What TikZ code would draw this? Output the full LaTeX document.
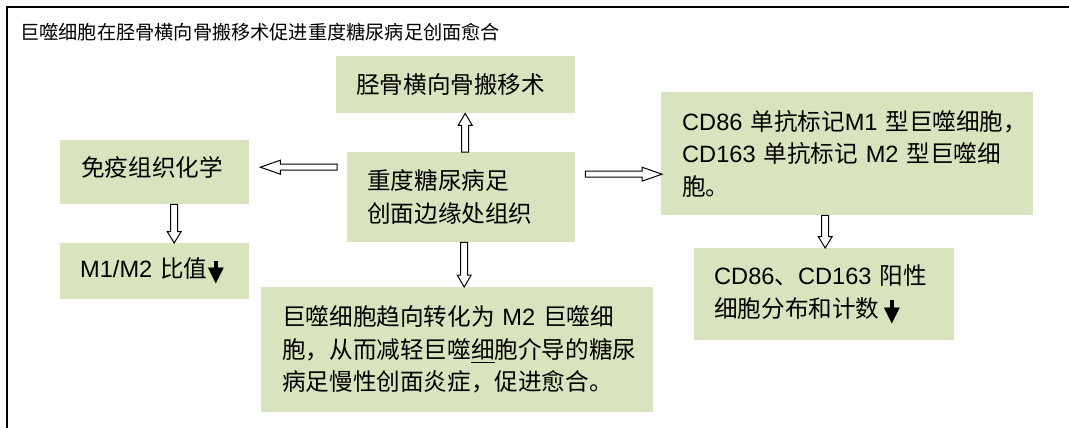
\documentclass[tikz,border=0pt]{standalone}
\usepackage{fontspec}
\setmainfont{Noto Sans CJK SC}
\newfontfamily\lat{Liberation Sans}
\newfontfamily\dv{DejaVu Sans}
\usetikzlibrary{calc}
\definecolor{boxgreen}{HTML}{D7E4BD}
% solid black down arrow: thick stem plus filled triangle head
\newcommand\darr{\makebox[17pt]{%
  \makebox[0pt]{\raisebox{6pt}{\rule{4pt}{11pt}}}%
  \makebox[0pt]{\raisebox{-4pt}{\fontsize{21}{21}\dv ▼}}}}
% underlined character
\newcommand\ulchar[1]{\makebox[0pt][l]{\rule[-4.6pt]{1em}{1.2pt}}#1}
% #1 head length, #2 shaft half width, #3 head half width, #4 from, #5 to
\newcommand\blockarrow[5]{%
 \draw[harrow] let \p1=(#4), \p2=(#5), \n2={veclen(\x2-\x1,\y2-\y1)},
   \n3={(\x2-\x1)/\n2}, \n4={(\y2-\y1)/\n2}, \n5={\n2-#1} in
 ({\x1+#2*(\n4)*1pt},{\y1-#2*(\n3)*1pt}) --
 ({\x1+\n5*(\n3)*1pt+#2*(\n4)*1pt},{\y1+\n5*(\n4)*1pt-#2*(\n3)*1pt}) --
 ({\x1+\n5*(\n3)*1pt+#3*(\n4)*1pt},{\y1+\n5*(\n4)*1pt-#3*(\n3)*1pt}) --
 (\p2) --
 ({\x1+\n5*(\n3)*1pt-#3*(\n4)*1pt},{\y1+\n5*(\n4)*1pt+#3*(\n3)*1pt}) --
 ({\x1+\n5*(\n3)*1pt-#2*(\n4)*1pt},{\y1+\n5*(\n4)*1pt+#2*(\n3)*1pt}) --
 ({\x1-#2*(\n4)*1pt},{\y1+#2*(\n3)*1pt}) -- cycle;}
\tikzset{
  box/.style={fill=boxgreen, draw=none, anchor=north west, inner ysep=0pt,
    align=left, font=\fontsize{23.6}{32.5}\selectfont},
  harrow/.style={draw=black, fill=white, line width=1pt, line join=miter},
}
\begin{document}
\begin{tikzpicture}[x=1pt, y=-1pt]
\useasboundingbox (0,0) rectangle (1069,428);
\draw[line width=1.3pt] (7,428) -- (7,7) -- (1069,7);
\node[anchor=west, inner sep=0pt, font=\fontsize{19.2}{22}\selectfont] (title) at (20,32)
  {巨噬细胞在胫骨横向骨搬移术促进重度糖尿病足创面愈合};

\node[box, minimum width=239pt, minimum height=57pt, inner xsep=20pt, text width=199pt] (top) at (336,56)
  {胫骨横向骨搬移术};
\node[box, minimum width=228pt, minimum height=90pt, inner xsep=20pt, text width=188pt] (ctr) at (347,152)
  {重度糖尿病足\\创面边缘处组织};
\node[box, minimum width=189pt, minimum height=64pt, inner xsep=21pt, text width=147pt] (imm) at (60,140)
  {免疫组织化学\rule[-12pt]{0pt}{12pt}};
\node[box, minimum width=189pt, minimum height=56pt, inner xsep=20pt, text width=149pt] (m12) at (60,243)
  {{\lat M1/M2} 比值\darr};
\node[box, minimum width=392pt, minimum height=125pt, inner xsep=21pt, text width=350pt] (bot) at (261,287)
  {\makebox[350pt][s]{巨噬细胞趋向转化为 {\lat M2} 巨噬细}\\
   \mbox{胞，从而减轻巨噬\ulchar{细}胞介导的糖尿}\\
   病足慢性创面炎症，促进愈合。};
\node[box, minimum width=372pt, minimum height=123pt, inner xsep=21pt, text width=330pt] (cd) at (661,92)
  {\mbox{{\lat CD86} 单抗标记{\lat M1} 型巨噬细胞，}\\
   \makebox[330pt][s]{{\lat CD163} 单抗标记 {\lat M2} 型巨噬细}\\
   胞。};
\node[box, minimum width=260pt, minimum height=92pt, inner xsep=20pt, text width=220pt] (pos) at (694,248)
  {\makebox[220pt][s]{{\lat CD86}、{\lat CD163} 阳性}\\
   细胞分布和计数\hspace{4pt}\darr};

% connector end points
\coordinate (up0) at ([xshift=4pt]ctr.north);
\coordinate (up1) at (up0 |- top.south);
\coordinate (lf0) at ([shift={(-10pt,30pt)}]ctr.west);
\coordinate (lf1) at ($(lf0 -| imm.east)+(11pt,0pt)$);
\coordinate (rt0) at ([shift={(10pt,23pt)}]ctr.east);
\coordinate (rt1) at ($(rt0 -| cd.west)+(1pt,0pt)$);
\coordinate (dl0) at ([xshift=19.5pt]imm.south);
\coordinate (dl1) at (dl0 |- m12.north);
\coordinate (dc0) at ([xshift=3pt]ctr.south);
\coordinate (dc1) at (dc0 |- bot.north);
\coordinate (dr1) at ([xshift=1pt]pos.north);
\coordinate (dr0) at (dr1 |- cd.south);

\blockarrow{12}{3.5}{7}{up0}{up1}
\blockarrow{20}{3}{7}{lf0}{lf1}
\blockarrow{20}{3}{7}{rt0}{rt1}
\blockarrow{11.5}{3.5}{7}{dl0}{dl1}
\blockarrow{12}{3.5}{7}{dc0}{dc1}
\blockarrow{11.5}{3.5}{7}{dr0}{dr1}
\end{tikzpicture}
\end{document}
